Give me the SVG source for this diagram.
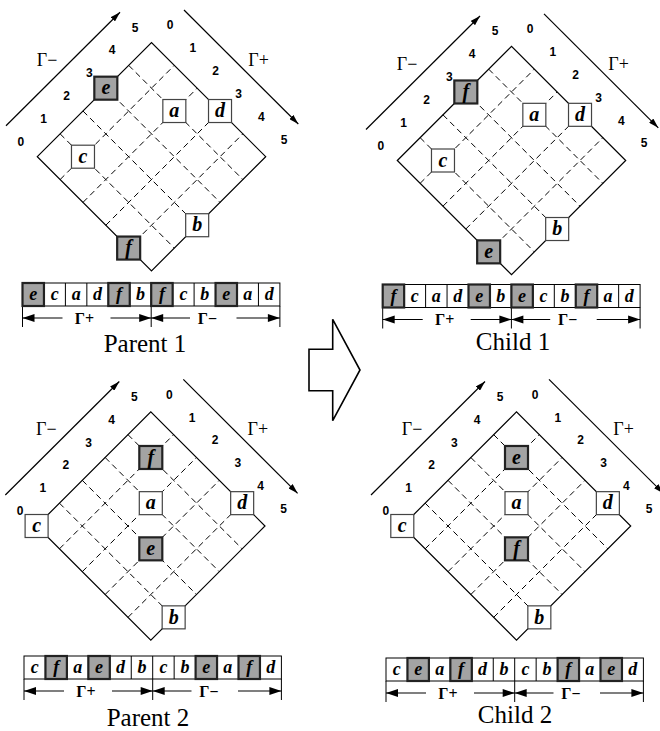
<svg xmlns="http://www.w3.org/2000/svg" width="660" height="731" viewBox="0 0 660 731">
<style>
.edge{fill:none;stroke:#000;stroke-width:1.2}
.dash{fill:none;stroke:#000;stroke-width:1;stroke-dasharray:6 4}
.garr{fill:none;stroke:#000;stroke-width:1.2}
.wbox{fill:#fff;stroke:#444;stroke-width:1.2}
.gbox{fill:#a3a3a3;stroke:#222;stroke-width:2.2}
.mod{font-family:"Liberation Serif",serif;font-style:italic;font-weight:bold;font-size:20px;text-anchor:middle;fill:#000}
.num{font-family:"Liberation Sans",Arial,sans-serif;font-weight:bold;font-size:12px;text-anchor:middle;fill:#000}
.glab{font-family:"Liberation Serif",serif;font-size:18px;text-anchor:middle;fill:#000}
.cell{fill:#fff;stroke:#000;stroke-width:1}
.gcell{fill:#a3a3a3;stroke:#222;stroke-width:2.2}
.clet{font-family:"Liberation Serif",serif;font-style:italic;font-weight:bold;font-size:18px;text-anchor:middle;fill:#000}
.tick{stroke:#000;stroke-width:1}
.sline{stroke:#000;stroke-width:1.2}
.blab{font-family:"Liberation Serif",serif;font-weight:bold;font-size:16px;text-anchor:middle;fill:#000}
.cap{font-family:"Liberation Serif",serif;font-size:25px;text-anchor:middle;fill:#000}
.bigarrow{fill:#fff;stroke:#000;stroke-width:1.6;stroke-linejoin:miter}
</style>
<defs>
<marker id="ah" viewBox="0 0 10 6" refX="10" refY="3" markerWidth="10" markerHeight="6" markerUnits="userSpaceOnUse" orient="auto">
<path d="M0,0 L10,3 L0,6 z" fill="#000"/>
</marker>
<g id="grid">
<polygon class="edge" points="-114.2,0 0,-114.2 114.2,0 0,114.2"/>
<path class="dash" d="M-91.36,22.84 L22.84,-91.36 M-68.52,45.68 L45.68,-68.52 M-45.68,68.52 L68.52,-45.68 M-22.84,91.36 L91.36,-22.84 M-91.36,-22.84 L22.84,91.36 M-68.52,-45.68 L45.68,68.52 M-45.68,-68.52 L68.52,45.68 M-22.84,-91.36 L91.36,22.84"/>
<line class="garr" x1="-145.5" y1="-31" x2="-31.5" y2="-144.5" marker-end="url(#ah)"/>
<line class="garr" x1="32.5" y1="-146.7" x2="146.8" y2="-32.7" marker-end="url(#ah)"/>
<text class="glab" x="-104.5" y="-91">Γ−</text>
<text class="glab" x="107" y="-91">Γ+</text>
<text class="num" x="-130.7" y="-11">0</text>
<text class="num" x="-107.9" y="-33.8">1</text>
<text class="num" x="-85" y="-56.7">2</text>
<text class="num" x="-62.2" y="-79.5">3</text>
<text class="num" x="-39.3" y="-102.4">4</text>
<text class="num" x="-16.5" y="-125.2">5</text>
<text class="num" x="18.5" y="-127.4">0</text>
<text class="num" x="41.3" y="-104.5">1</text>
<text class="num" x="64.2" y="-81.7">2</text>
<text class="num" x="87" y="-58.8">3</text>
<text class="num" x="109.9" y="-36">4</text>
<text class="num" x="132.7" y="-13.2">5</text>
</g>
</defs>

<g id="parent1" transform="translate(151.5,156.7)">
<use href="#grid"/>
<g id="p1-e"><rect class="gbox" x="-57.18" y="-80.02" width="23" height="23"/><text class="mod" x="-45.68" y="-62.3">e</text></g>
<g id="p1-c"><rect class="wbox" x="-80.02" y="-11.5" width="23" height="23"/><text class="mod" x="-68.52" y="6.2">c</text></g>
<g id="p1-a"><rect class="wbox" x="11.34" y="-57.18" width="23" height="23"/><text class="mod" x="22.84" y="-39.5">a</text></g>
<g id="p1-d"><rect class="wbox" x="57.02" y="-57.18" width="23" height="23"/><text class="mod" x="68.52" y="-39.5">d</text></g>
<g id="p1-f"><rect class="gbox" x="-34.34" y="79.86" width="23" height="23"/><text class="mod" x="-22.84" y="97.6">f</text></g>
<g id="p1-b"><rect class="wbox" x="34.18" y="57.02" width="23" height="23"/><text class="mod" x="45.68" y="74.7">b</text></g>
</g>

<g id="child1" transform="translate(511.5,160.5)">
<use href="#grid"/>
<g id="c1-f"><rect class="gbox" x="-57.18" y="-80.02" width="23" height="23"/><text class="mod" x="-45.68" y="-62.3">f</text></g>
<g id="c1-c"><rect class="wbox" x="-80.02" y="-11.5" width="23" height="23"/><text class="mod" x="-68.52" y="6.2">c</text></g>
<g id="c1-a"><rect class="wbox" x="11.34" y="-57.18" width="23" height="23"/><text class="mod" x="22.84" y="-39.5">a</text></g>
<g id="c1-d"><rect class="wbox" x="57.02" y="-57.18" width="23" height="23"/><text class="mod" x="68.52" y="-39.5">d</text></g>
<g id="c1-e"><rect class="gbox" x="-34.34" y="79.86" width="23" height="23"/><text class="mod" x="-22.84" y="97.6">e</text></g>
<g id="c1-b"><rect class="wbox" x="34.18" y="57.02" width="23" height="23"/><text class="mod" x="45.68" y="74.7">b</text></g>
</g>

<g id="parent2" transform="translate(150.8,526)">
<use href="#grid"/>
<g id="p2-c"><rect class="wbox" x="-125.7" y="-11.5" width="23" height="23"/><text class="mod" x="-114.2" y="6.2">c</text></g>
<g id="p2-f"><rect class="gbox" x="-11.5" y="-80.02" width="23" height="23"/><text class="mod" x="0" y="-62.3">f</text></g>
<g id="p2-a"><rect class="wbox" x="-11.5" y="-34.34" width="23" height="23"/><text class="mod" x="0" y="-16.6">a</text></g>
<g id="p2-e"><rect class="gbox" x="-11.5" y="11.34" width="23" height="23"/><text class="mod" x="0" y="29">e</text></g>
<g id="p2-d"><rect class="wbox" x="79.86" y="-34.34" width="23" height="23"/><text class="mod" x="91.36" y="-16.6">d</text></g>
<g id="p2-b"><rect class="wbox" x="11.34" y="79.86" width="23" height="23"/><text class="mod" x="22.84" y="97.6">b</text></g>
</g>

<g id="child2" transform="translate(516.5,526)">
<use href="#grid"/>
<g id="c2-c"><rect class="wbox" x="-125.7" y="-11.5" width="23" height="23"/><text class="mod" x="-114.2" y="6.2">c</text></g>
<g id="c2-e"><rect class="gbox" x="-11.5" y="-80.02" width="23" height="23"/><text class="mod" x="0" y="-62.3">e</text></g>
<g id="c2-a"><rect class="wbox" x="-11.5" y="-34.34" width="23" height="23"/><text class="mod" x="0" y="-16.6">a</text></g>
<g id="c2-f"><rect class="gbox" x="-11.5" y="11.34" width="23" height="23"/><text class="mod" x="0" y="29">f</text></g>
<g id="c2-d"><rect class="wbox" x="79.86" y="-34.34" width="23" height="23"/><text class="mod" x="91.36" y="-16.6">d</text></g>
<g id="c2-b"><rect class="wbox" x="11.34" y="79.86" width="23" height="23"/><text class="mod" x="22.84" y="97.6">b</text></g>
</g>

<defs>
<g id="barframe">
<rect class="cell" x="0" y="0" width="257.4" height="23"/>
<path class="tick" d="M21.45,0V23 M42.9,0V23 M64.35,0V23 M85.8,0V23 M107.25,0V23 M128.7,0V23 M150.15,0V23 M171.6,0V23 M193.05,0V23 M214.5,0V23 M235.95,0V23"/>
<path class="tick" d="M0,23V44 M128.7,23V44 M257.4,23V44"/>
<path class="sline" d="M0,35H40 M88,35H128.7 M128.7,35H167.5 M214,35H257.4"/>
<polygon points="0,35 12,31 12,39" fill="#000"/>
<polygon points="128.7,35 116.7,31 116.7,39" fill="#000"/>
<polygon points="128.7,35 140.7,31 140.7,39" fill="#000"/>
<polygon points="257.4,35 245.4,31 245.4,39" fill="#000"/>
<text class="blab" x="62" y="40.5">Γ+</text>
<text class="blab" x="185" y="40.5">Γ−</text>
</g>
</defs>

<g id="seq-parent1" transform="translate(22.5,283)">
<use href="#barframe"/>
<rect class="gcell" x="0" y="0" width="21.45" height="23"/>
<rect class="gcell" x="85.8" y="0" width="21.45" height="23"/>
<rect class="gcell" x="128.7" y="0" width="21.45" height="23"/>
<rect class="gcell" x="193.05" y="0" width="21.45" height="23"/>
<text class="clet" x="10.73" y="17.3">e</text><text class="clet" x="32.18" y="17.3">c</text><text class="clet" x="53.63" y="17.3">a</text><text class="clet" x="75.08" y="17.3">d</text><text class="clet" x="96.53" y="17.3">f</text><text class="clet" x="117.98" y="17.3">b</text>
<text class="clet" x="139.43" y="17.3">f</text><text class="clet" x="160.88" y="17.3">c</text><text class="clet" x="182.33" y="17.3">b</text><text class="clet" x="203.78" y="17.3">e</text><text class="clet" x="225.23" y="17.3">a</text><text class="clet" x="246.68" y="17.3">d</text>
</g>
<text class="cap" x="145" y="351.5">Parent 1</text>

<g id="seq-child1" transform="translate(382.7,284.5)">
<use href="#barframe"/>
<rect class="gcell" x="0" y="0" width="21.45" height="23"/>
<rect class="gcell" x="85.8" y="0" width="21.45" height="23"/>
<rect class="gcell" x="128.7" y="0" width="21.45" height="23"/>
<rect class="gcell" x="193.05" y="0" width="21.45" height="23"/>
<text class="clet" x="10.73" y="17.3">f</text><text class="clet" x="32.18" y="17.3">c</text><text class="clet" x="53.63" y="17.3">a</text><text class="clet" x="75.08" y="17.3">d</text><text class="clet" x="96.53" y="17.3">e</text><text class="clet" x="117.98" y="17.3">b</text>
<text class="clet" x="139.43" y="17.3">e</text><text class="clet" x="160.88" y="17.3">c</text><text class="clet" x="182.33" y="17.3">b</text><text class="clet" x="203.78" y="17.3">f</text><text class="clet" x="225.23" y="17.3">a</text><text class="clet" x="246.68" y="17.3">d</text>
</g>
<text class="cap" x="513" y="350">Child 1</text>

<g id="seq-parent2" transform="translate(24,656)">
<use href="#barframe"/>
<rect class="gcell" x="21.45" y="0" width="21.45" height="23"/>
<rect class="gcell" x="64.35" y="0" width="21.45" height="23"/>
<rect class="gcell" x="171.6" y="0" width="21.45" height="23"/>
<rect class="gcell" x="214.5" y="0" width="21.45" height="23"/>
<text class="clet" x="10.73" y="17.3">c</text><text class="clet" x="32.18" y="17.3">f</text><text class="clet" x="53.63" y="17.3">a</text><text class="clet" x="75.08" y="17.3">e</text><text class="clet" x="96.53" y="17.3">d</text><text class="clet" x="117.98" y="17.3">b</text>
<text class="clet" x="139.43" y="17.3">c</text><text class="clet" x="160.88" y="17.3">b</text><text class="clet" x="182.33" y="17.3">e</text><text class="clet" x="203.78" y="17.3">a</text><text class="clet" x="225.23" y="17.3">f</text><text class="clet" x="246.68" y="17.3">d</text>
</g>
<text class="cap" x="148" y="726">Parent 2</text>

<g id="seq-child2" transform="translate(386,658)">
<use href="#barframe"/>
<rect class="gcell" x="21.45" y="0" width="21.45" height="23"/>
<rect class="gcell" x="64.35" y="0" width="21.45" height="23"/>
<rect class="gcell" x="171.6" y="0" width="21.45" height="23"/>
<rect class="gcell" x="214.5" y="0" width="21.45" height="23"/>
<text class="clet" x="10.73" y="17.3">c</text><text class="clet" x="32.18" y="17.3">e</text><text class="clet" x="53.63" y="17.3">a</text><text class="clet" x="75.08" y="17.3">f</text><text class="clet" x="96.53" y="17.3">d</text><text class="clet" x="117.98" y="17.3">b</text>
<text class="clet" x="139.43" y="17.3">c</text><text class="clet" x="160.88" y="17.3">b</text><text class="clet" x="182.33" y="17.3">f</text><text class="clet" x="203.78" y="17.3">a</text><text class="clet" x="225.23" y="17.3">e</text><text class="clet" x="246.68" y="17.3">d</text>
</g>
<text class="cap" x="515" y="723">Child 2</text>

<g id="connectors">
<polygon id="crossover-arrow" class="bigarrow" points="309,349.3 332.7,349.3 332.7,319.3 360,370 332.7,420.7 332.7,390.7 309,390.7"/>
</g>
</svg>
